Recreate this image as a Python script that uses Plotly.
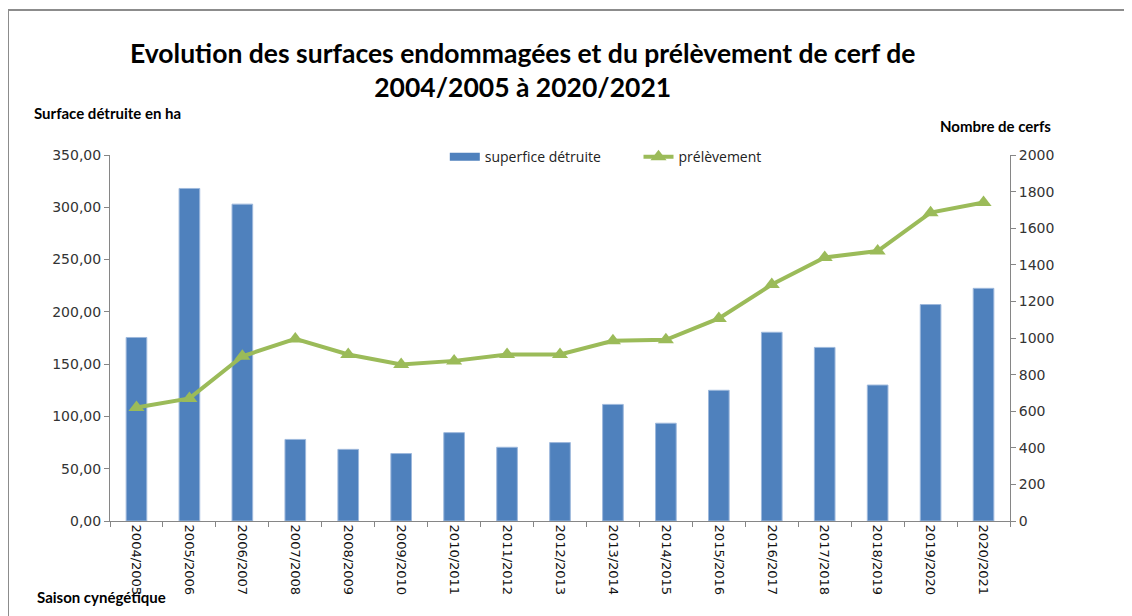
import plotly.graph_objects as go

saisons = ["2004/2005", "2005/2006", "2006/2007", "2007/2008", "2008/2009",
           "2009/2010", "2010/2011", "2011/2012", "2012/2013", "2013/2014",
           "2014/2015", "2015/2016", "2016/2017", "2017/2018", "2018/2019",
           "2019/2020", "2020/2021"]
superficie = [175.5, 318.0, 303.0, 78.0, 68.5, 64.5, 84.5, 70.5, 75.0, 111.5,
              93.5, 125.0, 180.5, 166.0, 130.0, 207.0, 222.5]
prelevement = [620, 670, 900, 995, 910, 855, 875, 910, 910, 985,
               990, 1107, 1292, 1440, 1475, 1685, 1740]
left_ticks = [0, 50, 100, 150, 200, 250, 300, 350]
left_labels = ["0,00", "50,00", "100,00", "150,00", "200,00", "250,00", "300,00", "350,00"]
right_ticks = [0, 200, 400, 600, 800, 1000, 1200, 1400, 1600, 1800, 2000]

FONT = "Open Sans, Liberation Sans, Arial, sans-serif"
TICK_FONT = "DejaVu Sans, Verdana, sans-serif"
TITLE_FONT = "Lato, Open Sans, sans-serif"
AXIS_GRAY = "#868686"
BAR_BLUE = "#4F81BD"
LINE_GREEN = "#9BBB59"
NBSP = "\u00a0"

fig = go.Figure()
fig.add_trace(go.Bar(
    x=saisons, y=superficie, name="superfice détruite", showlegend=False,
    marker=dict(color=BAR_BLUE, line=dict(color="#9DB8DC", width=1)),
    width=0.39, yaxis="y"))
# legend entry for the bars (wide rectangle swatch like the original)
fig.add_trace(go.Scatter(
    x=[saisons[0]], y=[None], name="superfice détruite" + NBSP * 9, mode="lines",
    line=dict(color=BAR_BLUE, width=8), yaxis="y"))
fig.add_trace(go.Scatter(
    x=saisons, y=prelevement, name="prélèvement", mode="lines+markers",
    line=dict(color=LINE_GREEN, width=4),
    marker=dict(symbol="triangle-up", size=14, color=LINE_GREEN),
    yaxis="y2"))

fig.update_layout(
    template="none",
    width=1132, height=616,
    margin=dict(l=102, r=130, t=147, b=103, autoexpand=False),
    paper_bgcolor="white", plot_bgcolor="white",
    font=dict(family=FONT, size=14, color="#222222"),
    showlegend=True,
    legend=dict(orientation="h", x=0.372, y=0.994, xanchor="left", yanchor="middle",
                font=dict(family=FONT, size=14, color="#222222"),
                itemwidth=30, tracegroupgap=0, bgcolor="rgba(0,0,0,0)"),
    xaxis=dict(type="category", categoryorder="array", categoryarray=saisons,
               range=[-0.5, len(saisons) - 0.5],
               showline=True, linecolor=AXIS_GRAY, linewidth=1,
               ticks="outside", tickson="boundaries", ticklen=5, tickcolor=AXIS_GRAY,
               tickangle=90, tickfont=dict(family=TICK_FONT, size=13, color="#111111"),
               showgrid=False, zeroline=False, automargin=False),
    yaxis=dict(range=[0, 350], tickvals=left_ticks, ticktext=left_labels,
               showline=True, linecolor=AXIS_GRAY, linewidth=1,
               ticks="outside", ticklen=5, tickcolor=AXIS_GRAY,
               tickfont=dict(family=TICK_FONT, size=14, color="#333333"),
               showgrid=False, zeroline=False, automargin=False),
    yaxis2=dict(range=[0, 2000], tickvals=right_ticks, overlaying="y", side="right",
                showline=True, linecolor=AXIS_GRAY, linewidth=1,
                ticks="outside", ticklen=5, tickcolor=AXIS_GRAY,
                tickfont=dict(family=TICK_FONT, size=14, color="#333333"),
                showgrid=False, zeroline=False, automargin=False),
    yaxis3=dict(range=[0, 350], tickvals=left_ticks, overlaying="y", side="left",
                anchor="x", showline=False, ticks="inside", ticklen=4,
                tickcolor=AXIS_GRAY, showticklabels=False, showgrid=False,
                zeroline=False, automargin=False),
    yaxis4=dict(range=[0, 2000], tickvals=right_ticks, overlaying="y", side="right",
                anchor="x", showline=False, ticks="inside", ticklen=4,
                tickcolor=AXIS_GRAY, showticklabels=False, showgrid=False,
                zeroline=False, automargin=False),
    bargap=0.6,
)

# Frame of the chart area
fig.add_shape(type="rect", xref="paper", yref="paper",
              x0=(8 - 110) / 900, x1=(1150 - 110) / 900,
              y0=(521 - 640) / 366, y1=(521 - 10) / 366,
              line=dict(color="#8C8C8C", width=2), fillcolor="rgba(0,0,0,0)", layer="below")

fig.add_annotation(xref="paper", yref="paper", x=(522 - 110) / 900, y=(521 - 70) / 366,
                   text="<b>Evolution des surfaces endommagées et du prélèvement de cerf de<br>2004/2005 à 2020/2021</b>",
                   showarrow=False, xanchor="center", yanchor="middle",
                   font=dict(family=TITLE_FONT, size=26.5, color="#000000"))
fig.add_annotation(xref="paper", yref="paper", x=(32 - 110) / 900, y=(521 - 113) / 366,
                   text="<b>Surface détruite en ha</b>", showarrow=False,
                   xanchor="left", yanchor="middle",
                   font=dict(family=TITLE_FONT, size=15, color="#000000"))
fig.add_annotation(xref="paper", yref="paper", x=(1053 - 110) / 900, y=(521 - 126) / 366,
                   text="<b>Nombre de cerfs</b>", showarrow=False,
                   xanchor="right", yanchor="middle",
                   font=dict(family=TITLE_FONT, size=15, color="#000000"))
fig.add_annotation(xref="paper", yref="paper", x=(35 - 110) / 900, y=(521 - 597) / 366,
                   text="<b>Saison cynégétique</b>", showarrow=False,
                   xanchor="left", yanchor="middle",
                   font=dict(family=TITLE_FONT, size=15, color="#000000"))

fig.write_html("out.html")
